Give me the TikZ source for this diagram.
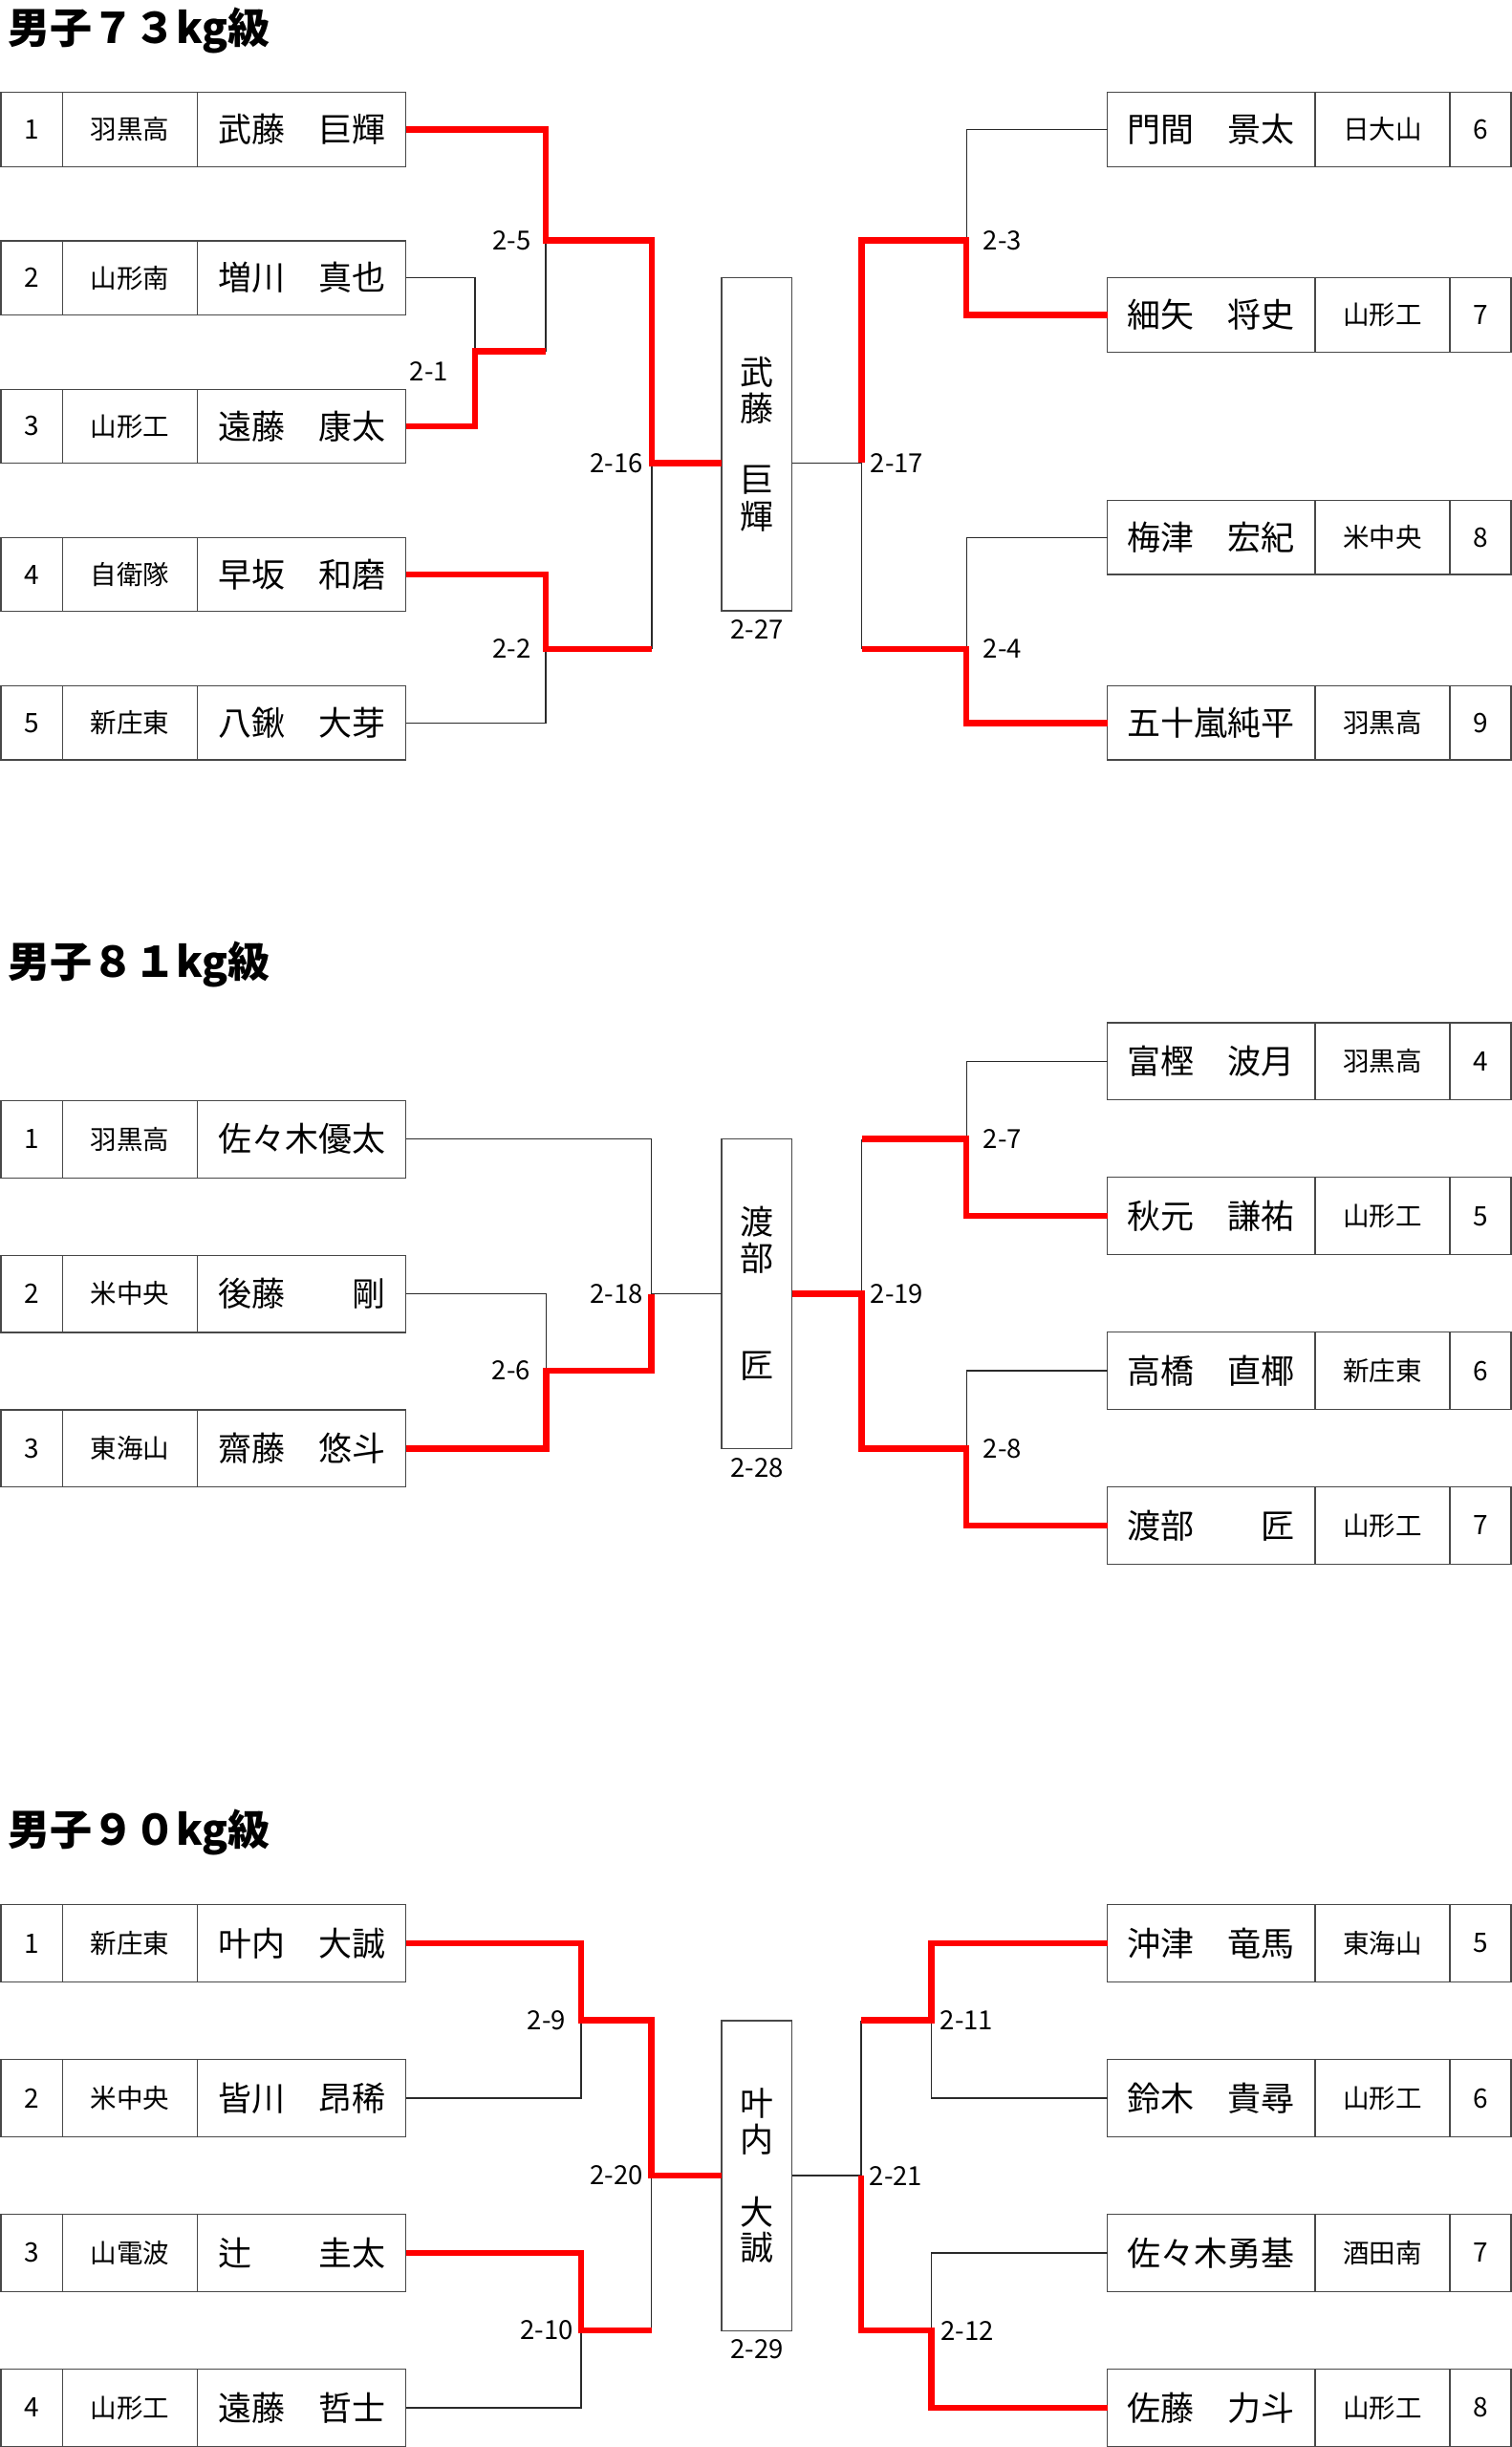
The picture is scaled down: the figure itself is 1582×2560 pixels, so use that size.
\documentclass[tikz,border=0pt]{standalone}
\usepackage{fontspec}
\newfontfamily\jp{Noto Sans CJK JP}
\newcommand\xnamefont{\jp\fontsize{35}{40}\selectfont}
\newcommand\xschfont{\jp\fontsize{27.5}{32}\selectfont}
\newcommand\xnumfont{\jp\fontsize{28}{32}\selectfont}
\newcommand\xlblfont{\jp\fontsize{27.5}{32}\selectfont}
\newcommand\xttlfont{\jp\bfseries\fontsize{44}{50}\selectfont}
\definecolor{boxgray}{HTML}{484848}
\definecolor{linegray}{HTML}{2A2A2A}
\definecolor{winred}{HTML}{FF0000}
\newcommand\lrow[5]{%
  \node[cellbox,minimum width=64.8pt,minimum height=\rowh,font=\xnumfont] (#1a) at (33.4,#2) {#3};
  \node[cellbox,minimum width=140.8pt,minimum height=\rowh,font=\xschfont] (#1b) at (136.2,#2) {#4};
  \node[cellbox,minimum width=217.9pt,minimum height=\rowh,font=\xnamefont] (#1) at (315.55,#2) {#5};}
\newcommand\rrow[5]{%
  \node[cellbox,minimum width=217.5pt,minimum height=\rowh,font=\xnamefont] (#1) at (1267.25,#2) {#3};
  \node[cellbox,minimum width=141pt,minimum height=\rowh,font=\xschfont] (#1b) at (1446.5,#2) {#4};
  \node[cellbox,minimum width=64pt,minimum height=\rowh,font=\xnumfont] (#1a) at (1549,#2) {#5};}
\begin{document}
\begin{tikzpicture}[x=1pt,y=-1pt,
  cellbox/.style={draw=boxgray,line width=1.2pt,inner sep=0pt,outer sep=0pt,anchor=center},
  thinln/.style={draw=linegray,line width=1.3pt},
  winln/.style={draw=winred,line width=6.5pt,line join=miter},
  lbl/.style={font=\xlblfont,inner sep=0pt},
  ttl/.style={font=\xttlfont,inner sep=0pt,anchor=west},
  vch/.style={font=\xnamefont,inner sep=0pt}]
\fill[white] (0,0) rectangle (1582,2560);
\useasboundingbox (0,0) rectangle (1582,2560);

% ---------------- titles
\node[ttl] (t73) at (8,31.5) {男子７３kg級};
\node[ttl] (t81) at (8,1009) {男子８１kg級};
\node[ttl] (t90) at (8,1917) {男子９０kg級};

% ================= 73kg
\def\rowh{77.4pt}
\lrow{a1}{135.5}{1}{羽黒高}{武藤　巨輝}
\lrow{a2}{290.7}{2}{山形南}{増川　真也}
\lrow{a3}{445.9}{3}{山形工}{遠藤　康太}
\lrow{a4}{601.1}{4}{自衛隊}{早坂　和磨}
\lrow{a5}{756.3}{5}{新庄東}{八鍬　大芽}
\rrow{a6}{135.5}{門間　景太}{日大山}{6}
\rrow{a7}{329.5}{細矢　将史}{山形工}{7}
\rrow{a8}{562.3}{梅津　宏紀}{米中央}{8}
\rrow{a9}{756.3}{五十嵐純平}{羽黒高}{9}
\node[cellbox,minimum width=73.5pt,minimum height=348.2pt] (cb1) at (791.75,464.9) {};
\node[vch] (cb1c1) at (791.75,389.5) {武};
\node[vch] (cb1c2) at (791.75,427.2) {藤};
\node[vch] (cb1c4) at (791.75,502.6) {巨};
\node[vch] (cb1c5) at (791.75,540.3) {輝};

\coordinate (j1) at (497,367.7);
\coordinate (j5) at (571,251.6);
\coordinate (j2) at (571,678.9);
\coordinate (j16) at (682,484.3);
\coordinate (j17) at (901.7,484.3);
\coordinate (j3) at (1011.2,251.6);
\coordinate (j4) at (1011.2,678.9);

\draw[thinln] (a2.east) -| (j1);
\draw[thinln] (j1 -| j5) -- (j5);
\draw[thinln] (a5.east) -| (j2);
\draw[thinln] (j2 -| j16) -- (j16);
\draw[thinln] (cb1.east |- j17) -- (j17) -- (j17 |- j4);
\draw[thinln] (a6.west) -| (j3);
\draw[thinln] (a8.west) -| (j4);
\draw[winln] (a1.east) -| (j5) -| (j16) -- (j16 -| cb1.west);
\draw[winln] (a3.east) -| (j1) -- (j1 -| j5);
\draw[winln] (a4.east) -| (j2) -- (j2 -| j16);
\draw[winln] (j17) |- (j3) |- (a7.west);
\draw[winln] (j17 |- j4) -- (j4) |- (a9.west);

\node[lbl] (m25) at (535.5,251.6) {2-5};
\node[lbl] (m21) at (449,388.6) {2-1};
\node[lbl] (m216) at (645,484.3) {2-16};
\node[lbl] (m22) at (535.5,678.9) {2-2};
\node[lbl] (m227) at (792,658.5) {2-27};
\node[lbl] (m217) at (938.5,484.3) {2-17};
\node[lbl] (m23) at (1049,251.6) {2-3};
\node[lbl] (m24) at (1049,678.9) {2-4};

% ================= 81kg
\def\rowh{80.8pt}
\lrow{b1}{1191.7}{1}{羽黒高}{佐々木優太}
\lrow{b2}{1353.5}{2}{米中央}{後藤　　剛}
\lrow{b3}{1515.4}{3}{東海山}{齋藤　悠斗}
\rrow{b4}{1110.4}{富樫　波月}{羽黒高}{4}
\rrow{b5}{1272.2}{秋元　謙祐}{山形工}{5}
\rrow{b6}{1434}{高橋　直椰}{新庄東}{6}
\rrow{b7}{1595.9}{渡部　　匠}{山形工}{7}
\node[cellbox,minimum width=73.5pt,minimum height=323.7pt] (cb2) at (791.75,1353.55) {};
\node[vch] (cb2c1) at (791.75,1278.15) {渡};
\node[vch] (cb2c2) at (791.75,1315.85) {部};
\node[vch] (cb2c5) at (791.75,1428.95) {匠};

\coordinate (j6) at (571.4,1434.1);
\coordinate (j18) at (681.6,1353.5);
\coordinate (j19) at (901.7,1353.5);
\coordinate (j7) at (1011.2,1191.7);
\coordinate (j8) at (1011.2,1515.4);

\draw[thinln] (b1.east) -| (j18) -- (j18 -| cb2.west);
\draw[thinln] (b2.east) -| (j6);
\draw[thinln] (j19) -- (j19 |- j7);
\draw[thinln] (b4.west) -| (j7);
\draw[thinln] (b6.west) -| (j8);
\draw[winln] (b3.east) -| (j6) -| (j18);
\draw[winln] (cb2.east |- j19) -- (j19) |- (j8) |- (b7.west);
\draw[winln] (j19 |- j7) -- (j7) |- (b5.west);

\node[lbl] (m26) at (535,1434.1) {2-6};
\node[lbl] (m218) at (645,1353.5) {2-18};
\node[lbl] (m228) at (792,1535.9) {2-28};
\node[lbl] (m219) at (938.5,1353.5) {2-19};
\node[lbl] (m27) at (1049,1191.7) {2-7};
\node[lbl] (m28) at (1049,1515.4) {2-8};

% ================= 90kg
\lrow{c1}{2033.1}{1}{新庄東}{叶内　大誠}
\lrow{c2}{2195}{2}{米中央}{皆川　昂稀}
\lrow{c3}{2356.9}{3}{山電波}{辻　　圭太}
\lrow{c4}{2518.9}{4}{山形工}{遠藤　哲士}
\rrow{c5}{2033.1}{沖津　竜馬}{東海山}{5}
\rrow{c6}{2195}{鈴木　貴尋}{山形工}{6}
\rrow{c7}{2356.9}{佐々木勇基}{酒田南}{7}
\rrow{c8}{2518.9}{佐藤　力斗}{山形工}{8}
\node[cellbox,minimum width=73.5pt,minimum height=324.1pt] (cb3) at (791.75,2276.05) {};
\node[vch] (cb3c1) at (791.75,2200.65) {叶};
\node[vch] (cb3c2) at (791.75,2238.35) {内};
\node[vch] (cb3c4) at (791.75,2313.75) {大};
\node[vch] (cb3c5) at (791.75,2351.45) {誠};

\coordinate (j9) at (608,2113.6);
\coordinate (j10) at (608,2438.1);
\coordinate (j20) at (681.7,2276);
\coordinate (j21) at (900.9,2276);
\coordinate (j11) at (974.6,2113.6);
\coordinate (j12) at (974.6,2438.1);

\draw[thinln] (c2.east) -| (j9);
\draw[thinln] (c4.east) -| (j10);
\draw[thinln] (j10 -| j20) -- (j20);
\draw[thinln] (cb3.east |- j21) -- (j21) -- (j21 |- j11);
\draw[thinln] (c6.west) -| (j11);
\draw[thinln] (c7.west) -| (j12);
\draw[winln] (c1.east) -| (j9) -| (j20) -- (j20 -| cb3.west);
\draw[winln] (c3.east) -| (j10) -- (j10 -| j20);
\draw[winln] (j21 |- j11) -- (j11) |- (c5.west);
\draw[winln] (j21) |- (j12) |- (c8.west);

\node[lbl] (m29) at (572,2113.6) {2-9};
\node[lbl] (m210) at (572,2438.1) {2-10};
\node[lbl] (m220) at (645,2276) {2-20};
\node[lbl] (m229) at (792,2458) {2-29};
\node[lbl] (m221) at (937.5,2276) {2-21};
\node[lbl] (m211) at (1011.5,2113.6) {2-11};
\node[lbl] (m212) at (1012,2438.1) {2-12};
\end{tikzpicture}
\end{document}
